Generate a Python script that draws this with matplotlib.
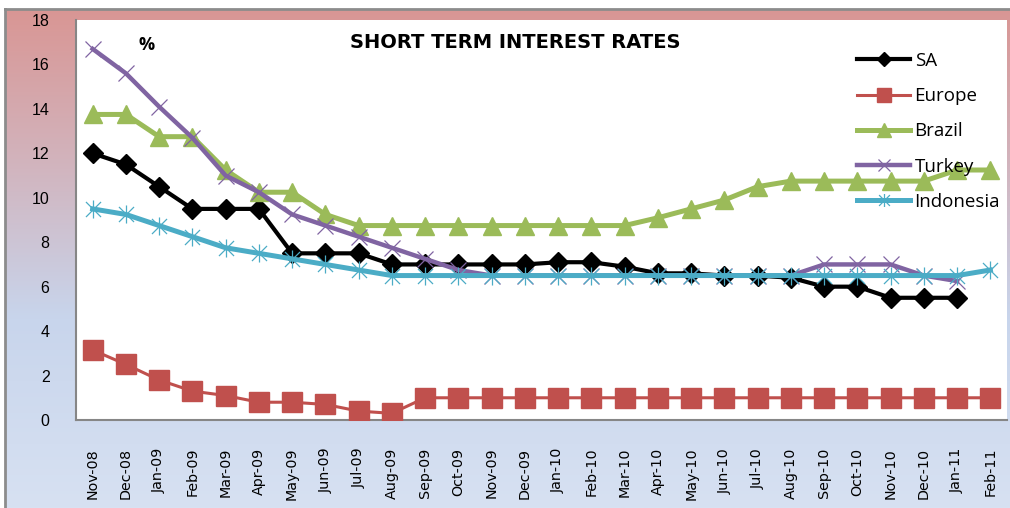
import numpy as np
import matplotlib
matplotlib.use("Agg")
import matplotlib.pyplot as plt
from matplotlib.colors import LinearSegmentedColormap
from matplotlib.path import Path

nan = np.nan

months = [
    "Nov-08", "Dec-08", "Jan-09", "Feb-09", "Mar-09", "Apr-09", "May-09",
    "Jun-09", "Jul-09", "Aug-09", "Sep-09", "Oct-09", "Nov-09", "Dec-09",
    "Jan-10", "Feb-10", "Mar-10", "Apr-10", "May-10", "Jun-10", "Jul-10",
    "Aug-10", "Sep-10", "Oct-10", "Nov-10", "Dec-10", "Jan-11", "Feb-11",
]

sa = [12.0, 11.5, 10.5, 9.5, 9.5, 9.5, 7.5, 7.5, 7.5, 7.0, 7.0, 7.0, 7.0, 7.0,
      7.1, 7.1, 6.9, 6.6, 6.6, 6.5, 6.5, 6.4, 6.0, 6.0, 5.5, 5.5, 5.5, nan]
europe = [3.15, 2.5, 1.8, 1.3, 1.1, 0.8, 0.8, 0.7, 0.4, 0.3, 1.0, 1.0, 1.0, 1.0,
          1.0, 1.0, 1.0, 1.0, 1.0, 1.0, 1.0, 1.0, 1.0, 1.0, 1.0, 1.0, 1.0, 1.0]
brazil = [13.75, 13.75, 12.75, 12.75, 11.25, 10.25, 10.25, 9.25, 8.75, 8.75,
          8.75, 8.75, 8.75, 8.75, 8.75, 8.75, 8.75, 9.1, 9.5, 9.9, 10.5, 10.75,
          10.75, 10.75, 10.75, 10.75, 11.25, 11.25]
turkey = [16.7, 15.6, 14.1, 12.7, 11.0, 10.25, 9.25, 8.75, 8.25, 7.75, 7.25,
          6.75, 6.5, 6.5, 6.5, 6.5, 6.5, 6.5, 6.5, 6.5, 6.5, 6.5, 7.0, 7.0, 7.0,
          6.5, 6.25, nan]
indonesia = [9.5, 9.25, 8.75, 8.25, 7.75, 7.5, 7.25, 7.0, 6.75, 6.5, 6.5, 6.5,
             6.5, 6.5, 6.5, 6.5, 6.5, 6.5, 6.5, 6.5, 6.5, 6.5, 6.5, 6.5, 6.5,
             6.5, 6.5, 6.75]

y_ticks = [0, 2, 4, 6, 8, 10, 12, 14, 16, 18]

# Excel style "star" marker: an x with a vertical stroke through it
star = Path(
    [(-1, -1), (1, 1), (-1, 1), (1, -1), (0, -1.2), (0, 1.2)],
    [Path.MOVETO, Path.LINETO, Path.MOVETO, Path.LINETO, Path.MOVETO, Path.LINETO],
)

W, H = 1010, 508
fig = plt.figure(figsize=(W / 100, H / 100), dpi=100)
fig.patch.set_facecolor("white")

# gradient background of the chart area
bg = fig.add_axes([5 / W, 0, (W - 5) / W, (H - 9) / H], zorder=-5)
cmap = LinearSegmentedColormap.from_list(
    "bg", [(0.0, "#D99694"), (0.3, "#D2B3BC"), (0.62, "#C8D5EC"), (1.0, "#D7E1F2")]
)
grad = np.linspace(0, 1, 256).reshape(-1, 1)
bg.imshow(grad, aspect="auto", cmap=cmap, extent=[0, 1, 0, 1], origin="upper")
bg.set_xticks([])
bg.set_yticks([])
for side in ["right", "bottom"]:
    bg.spines[side].set_visible(False)
for side in ["top", "left"]:
    bg.spines[side].set_color("#8C8C8C")
    bg.spines[side].set_linewidth(2)

ax = fig.add_axes([76 / W, (H - 420) / H, (1007 - 76) / W, 400 / H])
ax.set_facecolor("white")
x = np.arange(len(months))

ax.plot(x, sa, color="black", lw=3, marker="D", ms=10, label="SA", zorder=3)
ax.plot(x, europe, color="#C0504D", lw=2.2, marker="s", ms=14, label="Europe", zorder=3)
ax.plot(x, brazil, color="#9BBB59", lw=3.6, marker="^", ms=13.5, label="Brazil", zorder=3)
ax.plot(x, turkey, color="#8064A2", lw=3.2, marker="x", ms=12, mew=0.9,
        label="Turkey", zorder=3)
ax.plot(x, indonesia, color="#4BACC6", lw=3.6, marker=star, ms=13, mew=0.9,
        label="Indonesia", zorder=3)

ax.set_xlim(-0.5, len(months) - 0.5)
ax.set_ylim(0, 18)
ax.set_yticks(y_ticks)
ax.set_yticklabels([str(v) for v in y_ticks], fontsize=11.5, family="Liberation Sans")
ax.set_xticks(x)
ax.set_xticklabels(months, rotation=90, fontsize=10.3, family="DejaVu Sans",
                   va="top", ha="center")
ax.tick_params(axis="both", length=0)
ax.tick_params(axis="x", pad=20)
ax.tick_params(axis="y", pad=19)
for side in ["top", "right"]:
    ax.spines[side].set_visible(False)
for side in ["left", "bottom"]:
    ax.spines[side].set_color("#868686")
    ax.spines[side].set_linewidth(1.5)
ax.spines["bottom"].set_zorder(1)

fig.text(515 / W, 1 - 43 / H, "SHORT TERM INTEREST RATES", ha="center", va="center",
         fontsize=14, fontweight="bold", family="DejaVu Sans")
fig.text(147 / W, 1 - 45 / H, "%", ha="center", va="center",
         fontsize=13, fontweight="bold", family="Open Sans")

leg = ax.legend(
    loc="upper left", bbox_to_anchor=(857 / W, 1 - 52 / H),
    bbox_transform=fig.transFigure, frameon=False,
    prop={"family": "Open Sans", "size": 13.5}, handlelength=2.85,
    handletextpad=0.22, labelspacing=0.92, borderaxespad=0, borderpad=0,
)
for h in leg.legend_handles:
    h.set_markersize(h.get_markersize() * 0.72)

fig.savefig("out.png", dpi=100)
